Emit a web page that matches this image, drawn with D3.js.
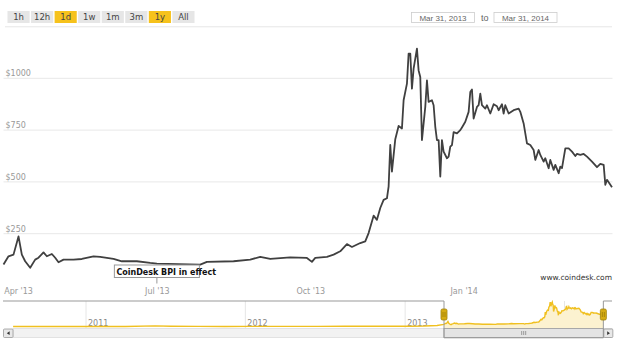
<!DOCTYPE html>
<html><head><meta charset="utf-8">
<script src="https://cdn.jsdelivr.net/npm/d3@7"></script>
<style>
html,body{margin:0;padding:0;background:#fff;}
svg{display:block;}
</style></head>
<body>
<svg id="chart" width="633" height="358"></svg>
<script>
// ---------- data ----------
const priceDates = ["2013-03-31","2013-04-03","2013-04-06","2013-04-09","2013-04-11","2013-04-13","2013-04-16","2013-04-19","2013-04-21","2013-04-24","2013-04-26","2013-04-29","2013-05-01","2013-05-03","2013-05-06","2013-05-12","2013-05-17","2013-05-24","2013-05-28","2013-06-05","2013-06-10","2013-06-19","2013-06-27","2013-07-01","2013-07-14","2013-07-27","2013-07-31","2013-08-16","2013-08-26","2013-09-01","2013-09-07","2013-09-19","2013-09-29","2013-10-02","2013-10-04","2013-10-11","2013-10-15","2013-10-19","2013-10-23","2013-10-26","2013-10-31","2013-11-03","2013-11-05","2013-11-08","2013-11-10","2013-11-12","2013-11-14","2013-11-16","2013-11-17","2013-11-18","2013-11-19","2013-11-21","2013-11-23","2013-11-25","2013-11-26","2013-11-28","2013-11-29","2013-11-30","2013-12-01","2013-12-02","2013-12-04","2013-12-05","2013-12-06","2013-12-07","2013-12-09","2013-12-10","2013-12-11","2013-12-13","2013-12-14","2013-12-15","2013-12-16","2013-12-17","2013-12-18","2013-12-19","2013-12-20","2013-12-22","2013-12-23","2013-12-24","2013-12-25","2013-12-26","2013-12-28","2013-12-30","2013-12-31","2014-01-02","2014-01-04","2014-01-05","2014-01-06","2014-01-07","2014-01-09","2014-01-10","2014-01-11","2014-01-12","2014-01-14","2014-01-15","2014-01-17","2014-01-19","2014-01-21","2014-01-22","2014-01-24","2014-01-25","2014-01-26","2014-01-28","2014-01-31","2014-02-03","2014-02-04","2014-02-06","2014-02-08","2014-02-10","2014-02-12","2014-02-13","2014-02-15","2014-02-16","2014-02-18","2014-02-19","2014-02-21","2014-02-22","2014-02-24","2014-02-25","2014-02-27","2014-02-28","2014-03-01","2014-03-03","2014-03-05","2014-03-07","2014-03-09","2014-03-10","2014-03-12","2014-03-14","2014-03-16","2014-03-19","2014-03-22","2014-03-24","2014-03-26","2014-03-27","2014-03-28","2014-03-30","2014-03-31"];
const priceValues = [101,141,149,237,149,117,86,125,134,160,141,152,134,112,125,125,128,141,138,128,117,117,109,106,103,101,114,117,125,138,128,136,133,114,133,138,149,165,200,186,205,213,253,337,317,374,413,421,477,678,550,706,770,758,894,974,1119,1119,950,1047,1143,1038,1006,702,862,990,886,894,870,766,702,702,526,702,646,614,622,670,678,740,734,750,763,790,838,934,946,806,862,870,926,870,854,870,830,875,865,846,875,830,870,830,846,854,838,782,686,678,654,606,654,630,598,614,566,606,558,582,542,574,566,662,662,646,625,635,630,635,622,598,571,587,582,486,510,486,474];

// earlier history shown only in the navigator
const historyDates = ["2010-07-18","2010-10-01","2010-12-01","2011-02-01","2011-04-01","2011-06-08","2011-07-15","2011-09-15","2011-11-15","2012-01-10","2012-03-15","2012-06-15","2012-08-15","2012-10-15","2012-12-15","2013-01-15","2013-02-15","2013-03-15"];
const historyValues = [0.1,0.1,0.3,1,1,30,14,5,3,6,5,6,11,12,13,15,25,47];

const yTicks = [250,500,750,1000];
const xTickDates = ["2013-04-01","2013-07-01","2013-10-01","2014-01-01"];
const navYearTicks = ["2011-01-01","2012-01-01","2013-01-01","2014-01-01"];
const rangeButtons = ["1h","12h","1d","1w","1m","3m","1y","All"];
const activeButtons = ["1d","1y"];
const fromLabel = "Mar 31, 2013", toLabel = "Mar 31, 2014";
const flagDate = "2013-07-01", flagText = "CoinDesk BPI in effect";
const creditText = "www.coindesk.com";

// ---------- build ----------
const parse = d3.timeParse("%Y-%m-%d");
const series = priceDates.map((d,i)=>({date:parse(d), v:priceValues[i]}));
const navSeries = historyDates.map((d,i)=>({date:parse(d), v:historyValues[i]})).concat(series);

const svg = d3.select("#chart");
const FONT = "'DejaVu Sans', Verdana, sans-serif";

// range selector buttons
const btnX = d3.scaleBand().domain(rangeButtons).range([7.5, 194.5]).paddingInner(0.06);
const btns = svg.append("g");
btns.selectAll("rect").data(rangeButtons).join("rect")
  .attr("x", d=>btnX(d)).attr("y", 11).attr("width", btnX.bandwidth()).attr("height", 12)
  .attr("fill", d=>activeButtons.includes(d) ? "#f6c21c" : "#e6e6e6");
btns.selectAll("text").data(rangeButtons).join("text")
  .attr("x", d=>btnX(d)+btnX.bandwidth()/2).attr("y", 20.2)
  .attr("text-anchor","middle").attr("font-family",FONT).attr("font-size","8.5px")
  .attr("fill", "#444").text(d=>d);

// date inputs
const inp = svg.append("g").attr("font-family","'Liberation Sans', Arial, sans-serif");
[[411.5, fromLabel],[494, toLabel]].forEach(([x,t])=>{
  inp.append("rect").attr("x",x).attr("y",12.5).attr("width",63).attr("height",10)
    .attr("fill","#fff").attr("stroke","#ccc").attr("stroke-width",0.8);
  inp.append("text").attr("x",x+31.5).attr("y",20.5).attr("text-anchor","middle")
    .attr("font-size","8px").attr("fill","#666").text(t);
});
inp.append("text").attr("x",481).attr("y",21).attr("font-size","9px").attr("fill","#666").text("to");

// separator line
svg.append("line").attr("x1",5).attr("x2",612).attr("y1",26.8).attr("y2",26.8)
  .attr("stroke","#e6e6e6").attr("stroke-width",1);

// main scales
const x = d3.scaleTime().domain([parse("2013-03-31"), parse("2014-03-31")]).range([3.5, 612]);
const y = d3.scaleLinear().domain([0, 1000]).range([285.5, 78.3]);

// y grid + labels
const gy = svg.append("g");
gy.selectAll("line").data(yTicks).join("line")
  .attr("x1",3.5).attr("x2",612.5).attr("y1",d=>y(d)).attr("y2",d=>y(d))
  .attr("stroke","#e8e8e8").attr("stroke-width",1);
gy.selectAll("text").data(yTicks).join("text")
  .attr("x",5.5).attr("y",d=>y(d)-2).attr("font-family",FONT).attr("font-size","8px")
  .attr("fill","#999").text(d=>"$"+d);

// x axis
const xAxis = d3.axisBottom(x).tickValues(xTickDates.map(parse))
  .tickFormat(d3.timeFormat("%b '%y")).tickSize(0).tickPadding(0);
const gx = svg.append("g").attr("transform","translate(0,288)").call(xAxis);
gx.select(".domain").remove();
gx.selectAll("text").attr("font-family",FONT).attr("font-size","8px").attr("fill","#999")
  .attr("dy","0.75em");
gx.selectAll(".tick").filter((d,i)=>i===0).select("text").attr("text-anchor","start").attr("dx",-1.5);

// price line
const line = d3.line().x(d=>x(d.date)).y(d=>y(d.v));
svg.append("path").datum(series).attr("d",line).attr("fill","none")
  .attr("stroke","#404040").attr("stroke-width",1.8).attr("stroke-linejoin","round");

// flag annotation
const fx = x(parse(flagDate));
const flag = svg.append("g");
flag.append("line").attr("x1",fx).attr("x2",fx).attr("y1",277).attr("y2",283.5)
  .attr("stroke","#999").attr("stroke-width",1);
flag.append("rect").attr("x",fx-42.5).attr("y",265).attr("width",85).attr("height",12.5)
  .attr("fill","rgba(255,255,255,0.9)").attr("stroke","#999").attr("stroke-width",1);
flag.append("text").attr("x",fx-40.5).attr("y",274.5).attr("font-family",FONT)
  .attr("font-size","8px").attr("font-weight","bold").attr("fill","#111").text(flagText);

// credit
svg.append("text").attr("x",612).attr("y",280).attr("text-anchor","end")
  .attr("font-family",FONT).attr("font-size","7.5px").attr("fill","#333").text(creditText);

// ---------- navigator ----------
const nx = d3.scaleTime().domain([parse("2011-01-01"), parse("2014-01-01")]).range([86, 564.5]);
const ny = d3.scaleLinear().domain([0, 1150]).range([326.5, 302]);
const selL = nx(parse("2013-03-31")), selR = nx(parse("2014-03-31"));

const nav = svg.append("g");
nav.selectAll("line.yr").data(navYearTicks.map(parse)).join("line").attr("class","yr")
  .attr("x1",d=>nx(d)).attr("x2",d=>nx(d)).attr("y1",301).attr("y2",328)
  .attr("stroke","#e6e6e6").attr("stroke-width",1);
nav.selectAll("text.yr").data(navYearTicks.map(parse)).join("text").attr("class","yr")
  .attr("x",d=>nx(d)+2).attr("y",326).attr("font-family",FONT).attr("font-size","8px")
  .attr("fill","#888").text(d3.timeFormat("%Y"));

// selected area fill
svg.append("clipPath").attr("id","sel").append("rect")
  .attr("x",selL).attr("y",295).attr("width",selR-selL).attr("height",35);
const area = d3.area().x(d=>nx(d.date)).y0(328).y1(d=>ny(d.v));
nav.append("path").datum(navSeries).attr("d",area).attr("fill","#fcf2d0")
  .attr("clip-path","url(#sel)");
nav.append("path").datum(navSeries).attr("d",d3.line().x(d=>nx(d.date)).y(d=>ny(d.v)))
  .attr("fill","none").attr("stroke","#f0c020").attr("stroke-width",1.4);

// scrollbar track
nav.append("rect").attr("x",13).attr("y",328.5).attr("width",599).attr("height",9)
  .attr("fill","#f2f2f2").attr("stroke","#dddddd").attr("stroke-width",0.8);
// left arrow button
nav.append("rect").attr("x",3.5).attr("y",329).attr("width",9.5).attr("height",8.5).attr("rx",1)
  .attr("fill","#e8e8e8").attr("stroke","#999").attr("stroke-width",0.8);
nav.append("path").attr("d",`M${9.6},${331.3} L${6.8},${333.2} L${9.6},${335.1}Z`).attr("fill","#333");
// thumb
nav.append("rect").attr("x",selL).attr("y",328.5).attr("width",selR-selL).attr("height",9)
  .attr("fill","#e4e4e4").attr("stroke","#999").attr("stroke-width",0.8);
const tc = (selL+selR)/2;
[-2,0,2].forEach(o=>nav.append("line").attr("x1",tc+o).attr("x2",tc+o).attr("y1",331).attr("y2",335)
  .attr("stroke","#888").attr("stroke-width",0.8));
// right arrow button
nav.append("rect").attr("x",selR+0.5).attr("y",329).attr("width",9).attr("height",8.5).attr("rx",1)
  .attr("fill","#e8e8e8").attr("stroke","#999").attr("stroke-width",0.8);
nav.append("path").attr("d",`M${selR+3.8},${331.3} L${selR+6.6},${333.2} L${selR+3.8},${335.1}Z`).attr("fill","#333");

// outline
nav.append("path").attr("d",
  `M3,301 H${selL} V337.8 H${selR} V301 H612`)
  .attr("fill","none").attr("stroke","#999").attr("stroke-width",1);

// handles
[selL, selR].forEach(hx=>{
  nav.append("rect").attr("x",hx-3).attr("y",309).attr("width",6).attr("height",11).attr("rx",1.5)
    .attr("fill","#d6ac14").attr("stroke","#a0820a").attr("stroke-width",0.8);
  [-1,1].forEach(o=>nav.append("line").attr("x1",hx+o).attr("x2",hx+o).attr("y1",312).attr("y2",317)
    .attr("stroke","#8a6e05").attr("stroke-width",0.6));
});
</script>
</body></html>
